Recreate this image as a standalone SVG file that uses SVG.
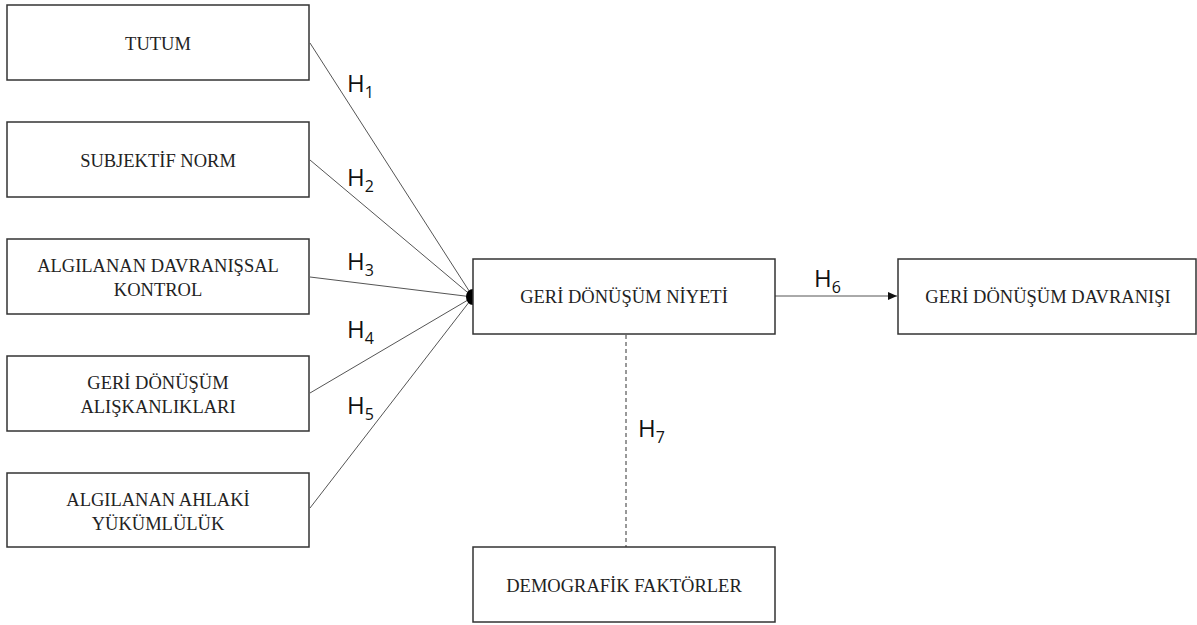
<svg xmlns="http://www.w3.org/2000/svg" width="1197" height="625" viewBox="0 0 1197 625">
<defs>
<style>
.box{fill:#fff;stroke:#333;stroke-width:1.5}
.t{font-family:"Liberation Serif","Times New Roman",serif;font-size:18.5px;fill:#222;text-anchor:middle}
.h{font-family:"Open Sans","Liberation Sans",sans-serif;font-size:24px;fill:#111}
.s{font-size:16px}
.c{stroke:#555;stroke-width:1;fill:none}
</style>
<marker id="arr" markerWidth="10" markerHeight="8" refX="9" refY="4" orient="auto" markerUnits="userSpaceOnUse">
<path d="M0,0 L9,4 L0,8 Z" fill="#111"/>
</marker>
</defs>
<rect width="1197" height="625" fill="#fff"/>
<g id="connectors">
<line class="c" x1="310" y1="43" x2="473" y2="297"/>
<line class="c" x1="310" y1="160" x2="473" y2="297"/>
<line class="c" x1="310" y1="277" x2="473" y2="297"/>
<line class="c" x1="310" y1="393" x2="473" y2="297"/>
<line class="c" x1="310" y1="508" x2="473" y2="297"/>
<path d="M473,289 A7,8 0 0 0 473,305 Z" fill="#000"/>
<line class="c" x1="775" y1="296" x2="897" y2="296" marker-end="url(#arr)"/>
<line x1="626" y1="335" x2="626" y2="547" stroke="#333" stroke-width="1" stroke-dasharray="4,3"/>
</g>
<g id="labels">
<text class="h" x="347" y="92">H<tspan class="s" dy="6">1</tspan></text>
<text class="h" x="347" y="186">H<tspan class="s" dy="6">2</tspan></text>
<text class="h" x="347" y="270">H<tspan class="s" dy="6">3</tspan></text>
<text class="h" x="347" y="338">H<tspan class="s" dy="6">4</tspan></text>
<text class="h" x="347" y="414">H<tspan class="s" dy="6">5</tspan></text>
<text class="h" x="814" y="287">H<tspan class="s" dy="6">6</tspan></text>
<text class="h" x="638" y="437">H<tspan class="s" dy="6">7</tspan></text>
</g>
<g id="n1"><rect class="box" x="7" y="5" width="302" height="75"/><text class="t" x="158" y="50">TUTUM</text></g>
<g id="n2"><rect class="box" x="7" y="122" width="302" height="75"/><text class="t" x="158" y="167">SUBJEKTİF NORM</text></g>
<g id="n3"><rect class="box" x="7" y="239" width="302" height="75"/><text class="t" x="158" y="272">ALGILANAN DAVRANIŞSAL</text><text class="t" x="158" y="296">KONTROL</text></g>
<g id="n4"><rect class="box" x="7" y="356" width="302" height="75"/><text class="t" x="158" y="389">GERİ DÖNÜŞÜM</text><text class="t" x="158" y="413">ALIŞKANLIKLARI</text></g>
<g id="n5"><rect class="box" x="7" y="473" width="302" height="74"/><text class="t" x="158" y="506">ALGILANAN AHLAKİ</text><text class="t" x="158" y="530">YÜKÜMLÜLÜK</text></g>
<g id="n6"><rect class="box" x="473" y="259" width="302" height="75"/><text class="t" x="624" y="303">GERİ DÖNÜŞÜM NİYETİ</text></g>
<g id="n7"><rect class="box" x="898" y="259" width="298" height="75"/><text class="t" x="1048" y="303">GERİ DÖNÜŞÜM DAVRANIŞI</text></g>
<g id="n8"><rect class="box" x="473" y="547" width="302" height="75"/><text class="t" x="624" y="592">DEMOGRAFİK FAKTÖRLER</text></g>
</svg>
